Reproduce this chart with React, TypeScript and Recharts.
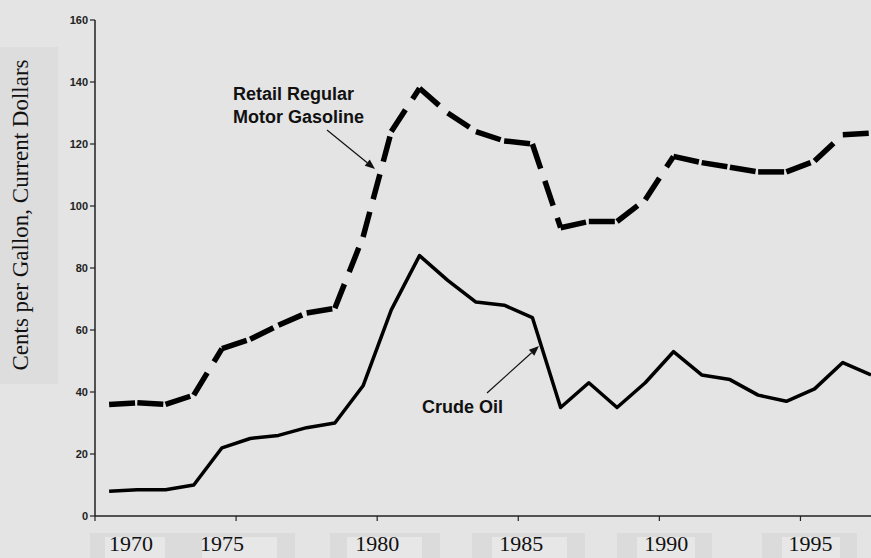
import React from 'react';
import { LineChart, Line, XAxis, YAxis } from 'recharts';

const years = [1970, 1971, 1972, 1973, 1974, 1975, 1976, 1977, 1978, 1979, 1980, 1981, 1982, 1983, 1984, 1985, 1986, 1987, 1988, 1989, 1990, 1991, 1992, 1993, 1994, 1995, 1996, 1997];
const crudeOil = [8, 8.5, 8.5, 10, 22, 25, 26, 28.5, 30, 42, 66.5, 84, 76, 69, 68, 64, 35, 43, 35, 43, 53, 45.5, 44, 39, 37, 41, 49.5, 45.5];
const retailGasoline = [36, 36.5, 36, 39, 54, 57, 61.5, 65.5, 67, 90, 124, 138, 130, 124, 121, 120, 93, 95, 95, 102, 116, 114, 112.5, 111, 111, 114.5, 123, 123.5];
const yTicks = [0, 20, 40, 60, 80, 100, 120, 140, 160];
const xTickYears = [1969.5, 1974.5, 1979.5, 1984.5, 1989.5, 1994.5];
const xTickLabels = ['1970', '1975', '1980', '1985', '1990', '1995'];
const LABEL_DX = [36, -14, 0, 3, 7, 10];

const SERIF = '"Liberation Serif", "Times New Roman", serif';
const SANS = '"Liberation Sans", Arial, sans-serif';

const rows = years.map((y, j) => {
  const r: any = { year: y, crude: crudeOil[j] };
  for (let i = 0; i < years.length - 1; i++) {
    r['g' + i] = j === i || j === i + 1 ? retailGasoline[j] : null;
  }
  return r;
});

const XTick = (props: any) => {
  const { x, y, index } = props;
  return (
    <text x={x + LABEL_DX[index]} y={y + 28} textAnchor="middle" fontFamily={SERIF} fontSize={22} fill="#111">
      {xTickLabels[index]}
    </text>
  );
};

const Arrow = ({ x1, y1, x2, y2 }: { x1: number; y1: number; x2: number; y2: number }) => {
  const dx = x2 - x1;
  const dy = y2 - y1;
  const len = Math.sqrt(dx * dx + dy * dy);
  const ux = dx / len;
  const uy = dy / len;
  const L = 10;
  const W = 4;
  const bx = x2 - ux * L;
  const by = y2 - uy * L;
  const p = `${x2},${y2} ${bx - uy * W},${by + ux * W} ${bx + uy * W},${by - ux * W}`;
  return (
    <g>
      <line x1={x1} y1={y1} x2={bx} y2={by} stroke="#111" strokeWidth={1.2} />
      <polygon points={p} fill="#111" />
    </g>
  );
};

export default function App() {
  return (
    <div style={{ position: 'absolute', left: 0, top: 0, width: 871, height: 558, background: '#e4e4e4', overflow: 'hidden' }}>
      <svg style={{ position: 'absolute', left: 0, top: 0 }} width={871} height={558}>
        <rect x={0} y={47} width={58} height={337} fill="#dddddd" />
        <rect x={90} y={533} width={205} height={25} fill="#dbdbdb" />
        <rect x={330} y={533} width={110} height={25} fill="#dbdbdb" />
        <rect x={472} y={533} width={113} height={25} fill="#dbdbdb" />
        <rect x={617} y={533} width={95} height={25} fill="#dbdbdb" />
        <rect x={762} y={533} width={95} height={25} fill="#dbdbdb" />
        <rect x={105} y={537} width={60} height={21} fill="#e7e7e7" />
        <rect x={202} y={537} width={75} height={21} fill="#e7e7e7" />
        <rect x={347} y={537} width={75} height={21} fill="#e7e7e7" />
        <rect x={492} y={537} width={75} height={21} fill="#e7e7e7" />
        <rect x={637} y={537} width={58} height={21} fill="#e7e7e7" />
        <rect x={782} y={537} width={58} height={21} fill="#e7e7e7" />
      </svg>
      <div style={{ position: 'absolute', left: 0, top: 0 }}>
        <LineChart width={871} height={558} data={rows} margin={{ top: 20, right: 0, bottom: 0, left: 0 }}>
          <XAxis
            dataKey="year"
            type="number"
            domain={[1969.5, 1997]}
            ticks={xTickYears}
            interval={0}
            height={42}
            tickSize={5}
            axisLine={{ stroke: '#222', strokeWidth: 1.5 }}
            tickLine={{ stroke: '#222', strokeWidth: 1.2 }}
            tick={<XTick />}
          />
          <YAxis
            type="number"
            domain={[0, 160]}
            ticks={yTicks}
            interval={0}
            width={95}
            tickSize={5}
            axisLine={{ stroke: '#222', strokeWidth: 1.5 }}
            tickLine={{ stroke: '#222', strokeWidth: 1.2 }}
            tick={{ fontSize: 11, fontWeight: 'bold', fill: '#222', fontFamily: SANS }}
          />
          <Line
            dataKey="crude"
            stroke="#000"
            strokeWidth={3.5}
            dot={false}
            activeDot={false}
            isAnimationActive={false}
            type="linear"
            strokeLinejoin="round"
          />
          {years.slice(0, -1).map((_, i) => (
            <Line
              key={'g' + i}
              dataKey={'g' + i}
              stroke="#000"
              strokeWidth={5.5}
              strokeDasharray="26 13"
              dot={false}
              activeDot={false}
              isAnimationActive={false}
              type="linear"
              connectNulls={false}
            />
          ))}
        </LineChart>
      </div>
      <svg style={{ position: 'absolute', left: 0, top: 0, pointerEvents: 'none' }} width={871} height={558}>
        <text transform="translate(28,215) rotate(-90)" textAnchor="middle" fontFamily={SERIF} fontSize={23} fill="#111">
          Cents per Gallon, Current Dollars
        </text>
        <text x={233} y={100} fontFamily={SANS} fontSize={18} fontWeight="bold" fill="#111">Retail Regular</text>
        <text x={233} y={123} fontFamily={SANS} fontSize={18} fontWeight="bold" fill="#111">Motor Gasoline</text>
        <text x={422} y={413} fontFamily={SANS} fontSize={18} fontWeight="bold" fill="#111">Crude Oil</text>
        <Arrow x1={327} y1={130} x2={375} y2={169} />
        <Arrow x1={487} y1={393} x2={539} y2={346} />
      </svg>
    </div>
  );
}
